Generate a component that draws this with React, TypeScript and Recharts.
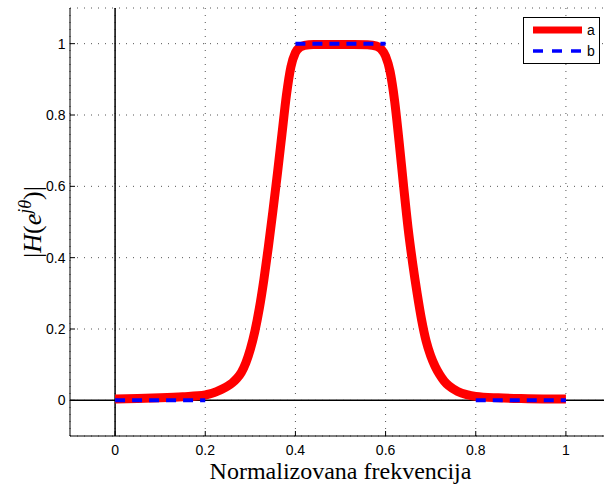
import React from "react";
import {
  LineChart,
  Line,
  XAxis,
  YAxis,
  CartesianGrid,
  ReferenceLine,
  Legend,
} from "recharts";

// measured response (a)
const freqA = [
  0, 0.05, 0.1, 0.15, 0.2, 0.21, 0.22, 0.23, 0.24, 0.25, 0.26, 0.27, 0.28, 0.29,
  0.3, 0.31, 0.32, 0.33, 0.34, 0.35, 0.36, 0.37, 0.38, 0.39, 0.4, 0.41, 0.42,
  0.44, 0.47, 0.5, 0.53, 0.56, 0.58, 0.59, 0.6, 0.61, 0.62, 0.63, 0.64, 0.65,
  0.66, 0.67, 0.68, 0.69, 0.7, 0.71, 0.72, 0.73, 0.74, 0.76, 0.78, 0.8, 0.85,
  0.9, 0.95, 1,
];
const magA = [
  0.004, 0.005, 0.007, 0.01, 0.015, 0.018, 0.022, 0.027, 0.033, 0.04, 0.049,
  0.061, 0.078, 0.105, 0.143, 0.193, 0.258, 0.338, 0.43, 0.53, 0.635, 0.745,
  0.855, 0.935, 0.975, 0.99, 0.995, 0.998, 0.998, 0.998, 0.998, 0.997, 0.993,
  0.985, 0.965, 0.922, 0.84, 0.725, 0.6, 0.482, 0.385, 0.3, 0.225, 0.166,
  0.125, 0.095, 0.072, 0.054, 0.041, 0.025, 0.016, 0.011, 0.007, 0.005, 0.004,
  0.004,
];

// ideal response (b), null = gap
const freqB = [0, 0.2, 0.3, 0.4, 0.6, 0.7, 0.8, 1];
const magB = [0, 0, null, 1, 1, null, 0, 0];

const ticks = [0, 0.2, 0.4, 0.6, 0.8, 1];

const dataA = freqA.map((x, i) => ({ x, y: magA[i] }));
const dataB = freqB.map((x, i) => ({ x, y: magB[i] }));

const sans = "'Liberation Sans', Arial, Helvetica, sans-serif";
const serif = "'Liberation Serif', 'Times New Roman', serif";

function YLabel(props: any) {
  const vb = props.viewBox || { y: 8, height: 428 };
  const cy = vb.y + vb.height / 2;
  return (
    <g transform={`translate(41, ${cy}) rotate(-90)`}>
      <text x={0} y={0} textAnchor="middle" fontFamily={serif} fontSize={26} fill="#000">
        <tspan>|</tspan>
        <tspan fontStyle="italic">H</tspan>
        <tspan>(</tspan>
        <tspan fontStyle="italic">e</tspan>
        <tspan fontStyle="italic" fontSize={18} dy={-10}>jθ</tspan>
        <tspan dy={10}>)</tspan>
        <tspan>|</tspan>
      </text>
    </g>
  );
}

function XLabel(props: any) {
  const vb = props.viewBox || { x: 70, width: 541 };
  return (
    <text
      x={vb.x + vb.width / 2}
      y={479}
      textAnchor="middle"
      fontFamily={serif}
      fontSize={24}
      fill="#000"
    >
      Normalizovana frekvencija
    </text>
  );
}

const renderLegend = () => (
  <svg width={77} height={47} style={{ display: "block" }}>
    <rect x={0.5} y={0.5} width={76} height={46} fill="#fff" stroke="#000" />
    <line x1={10} x2={59} y1={13} y2={13} stroke="#ff0000" strokeWidth={7} />
    <text x={64} y={18} fontFamily={sans} fontSize={14} fill="#000">a</text>
    <line x1={10} x2={59} y1={34} y2={34} stroke="#0000ff" strokeWidth={3.5} strokeDasharray="10 9" />
    <text x={64} y={39} fontFamily={sans} fontSize={14} fill="#000">b</text>
  </svg>
);

export default function App() {
  return (
    <div
      style={{
        position: "fixed",
        left: 0,
        top: 0,
        width: 604,
        height: 487,
        overflow: "hidden",
        background: "#fff",
      }}
    >
      <LineChart
        width={620}
        height={487}
        margin={{ top: 8, right: 9, bottom: 0, left: 0 }}
      >
        <CartesianGrid stroke="#555" strokeDasharray="1 6" />
        <XAxis
          dataKey="x"
          type="number"
          domain={[-0.1, 1.1]}
          ticks={ticks}
          allowDataOverflow
          height={51}
          stroke="#000"
          tickSize={-5}
          tickMargin={14}
          tick={{ fill: "#000", fontSize: 14, fontFamily: sans }}
          label={<XLabel />}
        />
        <XAxis
          xAxisId="top"
          orientation="top"
          type="number"
          domain={[-0.1, 1.1]}
          ticks={ticks}
          height={0}
          stroke="#000"
          tickSize={-5}
          tick={false}
        />
        <YAxis
          type="number"
          domain={[-0.1, 1.1]}
          ticks={ticks}
          allowDataOverflow
          width={70}
          stroke="#000"
          tickSize={-5}
          tickMargin={9.5}
          tick={{ fill: "#000", fontSize: 14, fontFamily: sans }}
          tickFormatter={(v: number) => String(v)}
          label={<YLabel />}
        />
        <ReferenceLine x={0} stroke="#000" strokeWidth={1.5} />
        <ReferenceLine y={0} stroke="#000" strokeWidth={1.5} />
        <Line
          data={dataA}
          dataKey="y"
          name="a"
          type="monotone"
          stroke="#ff0000"
          strokeWidth={9}
          dot={false}
          activeDot={false}
          isAnimationActive={false}
        />
        <Line
          data={dataB}
          dataKey="y"
          name="b"
          type="linear"
          stroke="#0000ff"
          strokeWidth={4}
          strokeDasharray="10 7"
          dot={false}
          activeDot={false}
          connectNulls={false}
          isAnimationActive={false}
        />
        <Legend
          layout="vertical"
          align="center"
          verticalAlign="middle"
          content={renderLegend}
          wrapperStyle={{ left: 523, top: 17, width: 77, height: 47 }}
        />
      </LineChart>
    </div>
  );
}
